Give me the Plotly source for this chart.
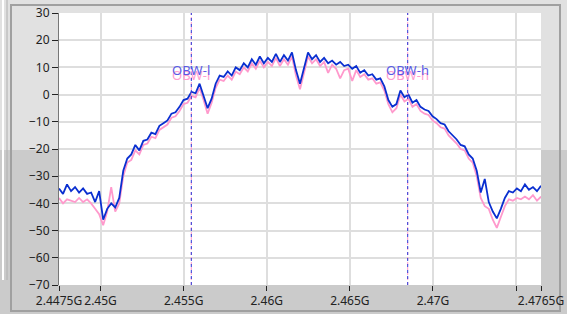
import plotly.graph_objects as go

# Frequency bins (GHz): 121 bins from 2.4475 GHz to 2.4765 GHz
f_start = 2.4475
f_stop = 2.4765
n_bins = 121
freq = [f_start + (f_stop - f_start) * i / (n_bins - 1) for i in range(n_bins)]

# Trace values (dBm)
blue = [-34.5, -36.5, -33, -35.5, -34, -36, -34.5, -36.5, -36, -39.5,
        -35.5, -46, -42, -40, -41.5, -38, -28, -23.5, -22, -18.5,
        -20.5, -17, -16.5, -14, -14.5, -11.5, -10.5, -9.5, -7, -6.5,
        -4.5, -2, -1.5, 1, 0.5, 4, -0.5, -5, -1.5, 4,
        7, 6.5, 8.5, 7, 10, 9, 11.5, 10, 13, 11,
        14, 11.5, 13.5, 12, 15, 12, 14.5, 12.5, 15.5, 9,
        4, 10, 15.5, 13, 14.5, 12, 13.5, 11.5, 12.5, 11,
        12, 10.5, 11, 9.5, 10.5, 8, 9, 7, 7.5, 5.5,
        6, 3, -2, -4.5, -3.5, 1.5, -1, 0, -3, -2,
        -4.5, -5.5, -6, -8, -9, -10.5, -11, -13.5, -15, -16.5,
        -18.5, -19, -22, -23.5, -28, -36, -31, -39.5, -43, -45.5,
        -42, -38, -35.5, -36, -34.5, -35.5, -33, -35, -34, -35.5,
        -33.5]

pink = [-38, -40, -38.5, -39, -39.5, -38, -39.5, -38.5, -40, -42,
        -44, -48, -43, -34, -43, -40, -30, -25, -24, -20.5,
        -22, -18.5, -18, -15.5, -16, -13, -12, -11, -8.5, -8,
        -6, -3.5, -3, -0.5, -1, 2.5, -2, -7, -3, 2.5,
        5.5, 5, 7, 5.5, 8.5, 7.5, 10, 8.5, 11.5, 9.5,
        12.5, 10, 12, 10.5, 13.5, 10.5, 13, 11, 14, 7,
        2, 8.5, 14, 11.5, 13, 10.5, 12, 8, 11, 9.5,
        6, 9, 9.5, 5, 9, 6.5, 7.5, 5.5, 6, 4,
        4.5, 1.5, -3.5, -6.5, -5, 0, -2.5, -1.5, -4.5, -3.5,
        -6, -7, -7.5, -9.5, -10.5, -12, -12.5, -15, -16.5, -18,
        -20, -20.5, -23.5, -25, -30, -38, -41, -42, -46, -49,
        -45, -41, -38.5, -39, -38, -38.5, -37.5, -38.5, -37, -39,
        -37.5]

# OBW markers (GHz)
obw_names = ["OBW-l", "OBW-h"]
obw_freq = [2.45546, 2.46848]

x_tick_vals = [2.4475, 2.45, 2.455, 2.46, 2.465, 2.47, 2.475, 2.4765]
x_tick_text = ["2.4475G", "2.45G", "2.455G", "2.46G", "2.465G", "2.47G", "", "2.4765G"]
y_tick_vals = [30, 20, 10, 0, -10, -20, -30, -40, -50, -60, -70]

fig = go.Figure()
fig.add_trace(go.Scatter(x=freq, y=pink, mode="lines",
                         line=dict(color="#ff99cc", width=1.8), hoverinfo="skip"))
fig.add_trace(go.Scatter(x=freq, y=blue, mode="lines",
                         line=dict(color="#0a2fd0", width=1.8), hoverinfo="skip"))

W, H = 567, 314
L, R, T, B = 59, 541, 13, 285


def px(xp):
    return (xp - L) / (R - L)


def py(yp):
    return (B - yp) / (B - T)


shapes = [
    # lower darker band of the frame background
    dict(type="rect", xref="paper", yref="paper", x0=px(0), x1=px(W), y0=py(H), y1=py(150),
         fillcolor="#cbcbcb", line=dict(width=0), layer="below"),
    # outer frame
    dict(type="rect", xref="paper", yref="paper", x0=px(11), x1=px(560), y0=py(311), y1=py(5),
         fillcolor="rgba(0,0,0,0)", line=dict(color="#a0a0a0", width=2), layer="below"),
    # left side panel strip
    dict(type="line", xref="paper", yref="paper", x0=px(3), x1=px(3), y0=py(280), y1=py(0),
         line=dict(color="#ffffff", width=2), layer="below"),
    dict(type="line", xref="paper", yref="paper", x0=px(7), x1=px(7), y0=py(280), y1=py(0),
         line=dict(color="#b0b0b0", width=1), layer="below"),
    # white plot area
    dict(type="rect", xref="paper", yref="paper", x0=0, x1=1, y0=0, y1=1,
         fillcolor="#ffffff", line=dict(width=0), layer="below"),
]

for f in obw_freq:
    shapes.append(dict(type="line", xref="x", yref="paper", x0=f, x1=f, y0=0, y1=1,
                       line=dict(color="#ff99cc", width=1, dash="3px,2px"), layer="above"))
    shapes.append(dict(type="line", xref="x", yref="paper", x0=f, x1=f, y0=0, y1=1,
                       line=dict(color="#2a3ad8", width=1, dash="3px,3px"), layer="above"))

annotations = []
for name, f in zip(obw_names, obw_freq):
    annotations.append(dict(x=f, y=7.3, xref="x", yref="y", text=name, showarrow=False,
                            font=dict(family="Noto Sans", size=13, color="#ff9ccf")))
    annotations.append(dict(x=f, y=9.0, xref="x", yref="y", text=name, showarrow=False,
                            font=dict(family="Noto Sans", size=13, color="#5a5ae6")))

fig.update_layout(
    width=W, height=H,
    autosize=False,
    margin=dict(l=L, r=W - R, t=T, b=H - B, pad=0),
    paper_bgcolor="#e1e1e1",
    plot_bgcolor="#ffffff",
    showlegend=False,
    shapes=shapes,
    annotations=annotations,
    font=dict(family="Noto Sans", size=12, color="#222222"),
)
fig.update_xaxes(range=[f_start, f_stop], tickvals=x_tick_vals, ticktext=x_tick_text,
                 ticks="outside", ticklen=5, tickcolor="#222222", showgrid=True,
                 gridcolor="#dedede", gridwidth=2, showline=False, zeroline=False,
                 automargin=False, tickfont=dict(size=12, color="#222222"))
fig.update_yaxes(range=[-70, 30], tickvals=y_tick_vals, ticks="outside", ticklen=6,
                 tickcolor="#222222", showgrid=True, gridcolor="#dedede", gridwidth=2,
                 showline=True, linecolor="#777777", linewidth=1, zeroline=False,
                 automargin=False, tickfont=dict(size=12, color="#222222"))

fig.write_html("out.html", config={"displayModeBar": False},
               post_script="document.body.style.margin='0';document.body.style.overflow='hidden';")
